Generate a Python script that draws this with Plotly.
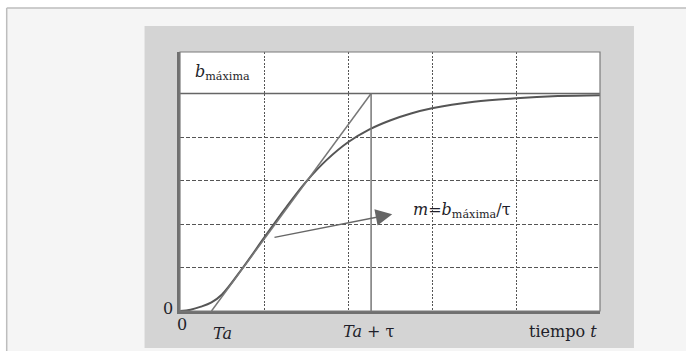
import plotly.graph_objects as go

# ---- data ----
t_curve = [0, 0.125, 0.25, 0.375, 0.5, 0.75, 1.0, 1.25, 1.5, 1.75, 2.0, 2.25, 2.5, 2.75, 3.0, 3.5, 4.0, 4.5, 5.0]
b_curve = [0, 0.03, 0.1, 0.2, 0.38, 1.0, 1.68, 2.35, 2.97, 3.48, 3.88, 4.17, 4.38, 4.54, 4.66, 4.81, 4.89, 4.94, 4.96]
b_max = 5.0
Ta = 0.375
tau = 1.9
t_max = 5.0
x_grid = [1, 2, 3, 4]
y_grid = [1, 2, 3, 4]
arrow_from = (1.107, 1.686)
arrow_to = (2.526, 2.224)

FONT = "DejaVu Serif"
TXT = "#1f1f2a"

fig = go.Figure()

# curve
fig.add_trace(go.Scatter(x=t_curve, y=b_curve, mode="lines", line=dict(color="#555555", width=2, shape="spline"),
                         hoverinfo="skip", showlegend=False))
# tangent
fig.add_trace(go.Scatter(x=[Ta, Ta + tau], y=[0, b_max], mode="lines", line=dict(color="#777777", width=1.5),
                         showlegend=False))
# b max line
fig.add_trace(go.Scatter(x=[0, t_max], y=[b_max, b_max], mode="lines", line=dict(color="#666666", width=1.5),
                         showlegend=False))
# vertical at Ta+tau
fig.add_trace(go.Scatter(x=[Ta + tau, Ta + tau], y=[0, b_max], mode="lines", line=dict(color="#777777", width=1.5),
                         showlegend=False))

# background shapes (paper coordinates)
shapes = [
    dict(type="rect", xref="paper", yref="paper", x0=-0.4126, x1=1.21, y0=-0.16, y1=1.1699,
         fillcolor="#f5f5f5", line=dict(width=0), layer="below"),
    dict(type="line", xref="paper", yref="paper", x0=-0.4126, x1=1.21, y0=1.1699, y1=1.1699,
         line=dict(color="#bdbdbd", width=1.5), layer="below"),
    dict(type="line", xref="paper", yref="paper", x0=-0.4126, x1=-0.4126, y0=-0.16, y1=1.1699,
         line=dict(color="#bdbdbd", width=1.5), layer="below"),
    dict(type="rect", xref="paper", yref="paper", x0=-0.0844, x1=1.0809, y0=-0.1429, y1=1.1004,
         fillcolor="#d4d4d4", line=dict(width=0), layer="below"),
    dict(type="rect", xref="paper", yref="paper", x0=0, x1=1, y0=0, y1=1,
         fillcolor="#ffffff", line=dict(width=0), layer="below"),
    dict(type="rect", xref="paper", yref="paper", x0=0, x1=1, y0=0, y1=1,
         fillcolor="rgba(0,0,0,0)", line=dict(color="#7a7a7a", width=1.2), layer="above"),
]

f = dict(family=FONT, size=16, color=TXT)
annotations = [
    dict(x=arrow_to[0], y=arrow_to[1], ax=arrow_from[0], ay=arrow_from[1], xref="x", yref="y", axref="x", ayref="y",
         text="", showarrow=True, arrowhead=2, arrowsize=2.2, arrowwidth=1.5, arrowcolor="#666666"),
    dict(x=0.16, y=5.49, xref="x", yref="y", xanchor="left", yanchor="middle", showarrow=False,
         text="<i>b</i><sub>máxima</sub>", font=f),
    dict(x=2.744, y=2.32, xref="x", yref="y", xanchor="left", yanchor="middle", showarrow=False,
         text="<i>m</i>=<i>b</i><sub>máxima</sub>/τ", font=f),
    dict(x=-0.0297, y=0.069, xref="paper", yref="y", xanchor="center", yanchor="middle", showarrow=False,
         text="0", font=f),
    dict(x=0.026, y=-0.054, xref="x", yref="paper", xanchor="center", yanchor="middle", showarrow=False,
         text="0", font=f),
    dict(x=0.506, y=-0.085, xref="x", yref="paper", xanchor="center", yanchor="middle", showarrow=False,
         text="<i>Ta</i>", font=f),
    dict(x=2.244, y=-0.081, xref="x", yref="paper", xanchor="center", yanchor="middle", showarrow=False,
         text="<i>Ta</i> + τ", font=f),
    dict(x=4.565, y=-0.081, xref="x", yref="paper", xanchor="center", yanchor="middle", showarrow=False,
         text="tiempo <i>t</i>", font=f),
]

fig.update_layout(
    width=686, height=351,
    margin=dict(l=179.5, r=86, t=52, b=40, pad=0),
    paper_bgcolor="#ffffff", plot_bgcolor="rgba(0,0,0,0)",
    shapes=shapes, annotations=annotations, showlegend=False,
)
fig.update_xaxes(range=[0, t_max], tickvals=x_grid, showticklabels=False, ticks="",
                 showgrid=True, gridcolor="#555555", gridwidth=1, griddash="2px,1.5px",
                 zeroline=False, showline=True, linecolor="#707070", linewidth=2.5, fixedrange=True)
fig.update_yaxes(range=[0, 5.954], tickvals=y_grid, showticklabels=False, ticks="",
                 showgrid=True, gridcolor="#555555", gridwidth=1, griddash="4px,2px",
                 zeroline=False, showline=True, linecolor="#707070", linewidth=2.5, fixedrange=True)

fig.write_html("out.html", config={"displayModeBar": False},
               post_script="document.body.style.margin='0';document.body.style.padding='0';")
